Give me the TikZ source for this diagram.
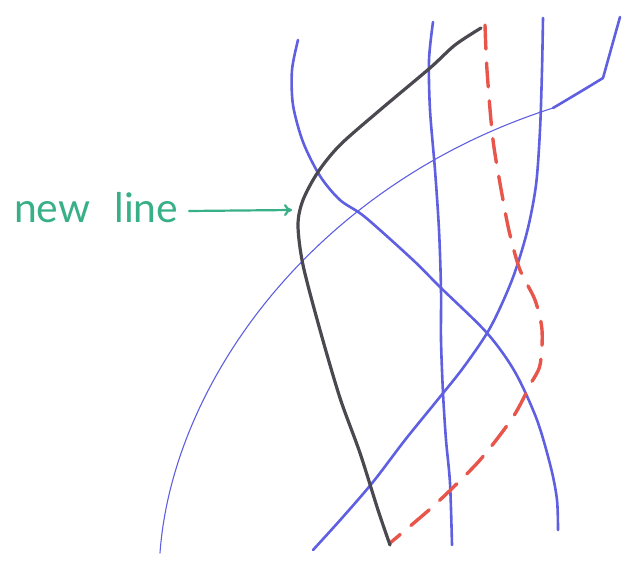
\documentclass[tikz,border=0pt]{standalone}
\usepackage{fontspec}
\setmainfont{Lato}
\usetikzlibrary{arrows.meta}
\definecolor{penblue}{RGB}{95,95,225}
\definecolor{penred}{RGB}{232,85,75}
\definecolor{pengray}{RGB}{75,72,80}
\definecolor{pengreen}{RGB}{55,175,135}
\tikzset{
  blueline/.style={penblue, line width=2.6bp, line cap=round, line join=round},
  thinblue/.style={penblue, line width=1.1bp, line cap=round},
  grayline/.style={pengray, line width=3.2bp, line cap=round, line join=round},
  reddash/.style={penred, line width=3.4bp, dash pattern=on 24bp off 14bp, line cap=round},
  label/.style={pengreen, font=\fontsize{41}{41}\selectfont, inner sep=0pt, anchor=base west},
  pointer/.style={pengreen, line width=2.2bp, -{To[length=8bp,width=12bp]}}
}
\begin{document}
\begin{tikzpicture}[x=1bp,y=-1bp]
\useasboundingbox (0,0) rectangle (635,574);
% thin long blue curve
\draw[thinblue] (160,553) .. controls (172,385) and (312,185) .. (553,108);
\draw[blueline] (553,108) .. controls (570,98) and (590,86) .. (603,78) -- (620,17);
% blue curve A
\draw[blueline] plot[smooth, tension=0.5] coordinates {(298,40) (292,70) (293,105) (303,142) (320,176) (340,200) (365,217) (413,260) (440,287) (487,333) (515,372) (537,420) (551,468) (557,500) (558,530)};
% blue line B
\draw[blueline] plot[smooth, tension=0.5] coordinates {(433,22) (429,60) (430,110) (435,170) (439,230) (441,290) (441,340) (443,393) (446,440) (450,483) (452,545)};
% blue line C
\draw[blueline] plot[smooth, tension=0.5] coordinates {(543,18) (542,70) (540,130) (536,185) (527,232) (512,280) (490,328) (463,368) (435,403) (405,440) (373,482) (342,518) (313,550)};
% red dashed
\draw[reddash] plot[smooth, tension=0.5] coordinates {(485,25) (487,70) (493,140) (503,200) (510,235) (520,270) (535,300) (542,330) (540,365) (530,385) (513,417) (480,460) (440,500) (415,522) (390,543)};
% new gray line
\draw[grayline] plot[smooth, tension=0.5] coordinates {(481,28) (455,45) (430,68) (380,110) (340,145) (318,172) (303,200) (298,225) (303,265) (320,330) (340,398) (360,453) (378,510) (390,545)};
% label
\node[label] (lbl) at (14,222) {new\hspace{24bp}line};
\coordinate (tgt) at (292,210);
\draw[pointer] ([xshift=10bp,yshift=11bp]lbl.base east) -- (tgt);
\end{tikzpicture}
\end{document}
